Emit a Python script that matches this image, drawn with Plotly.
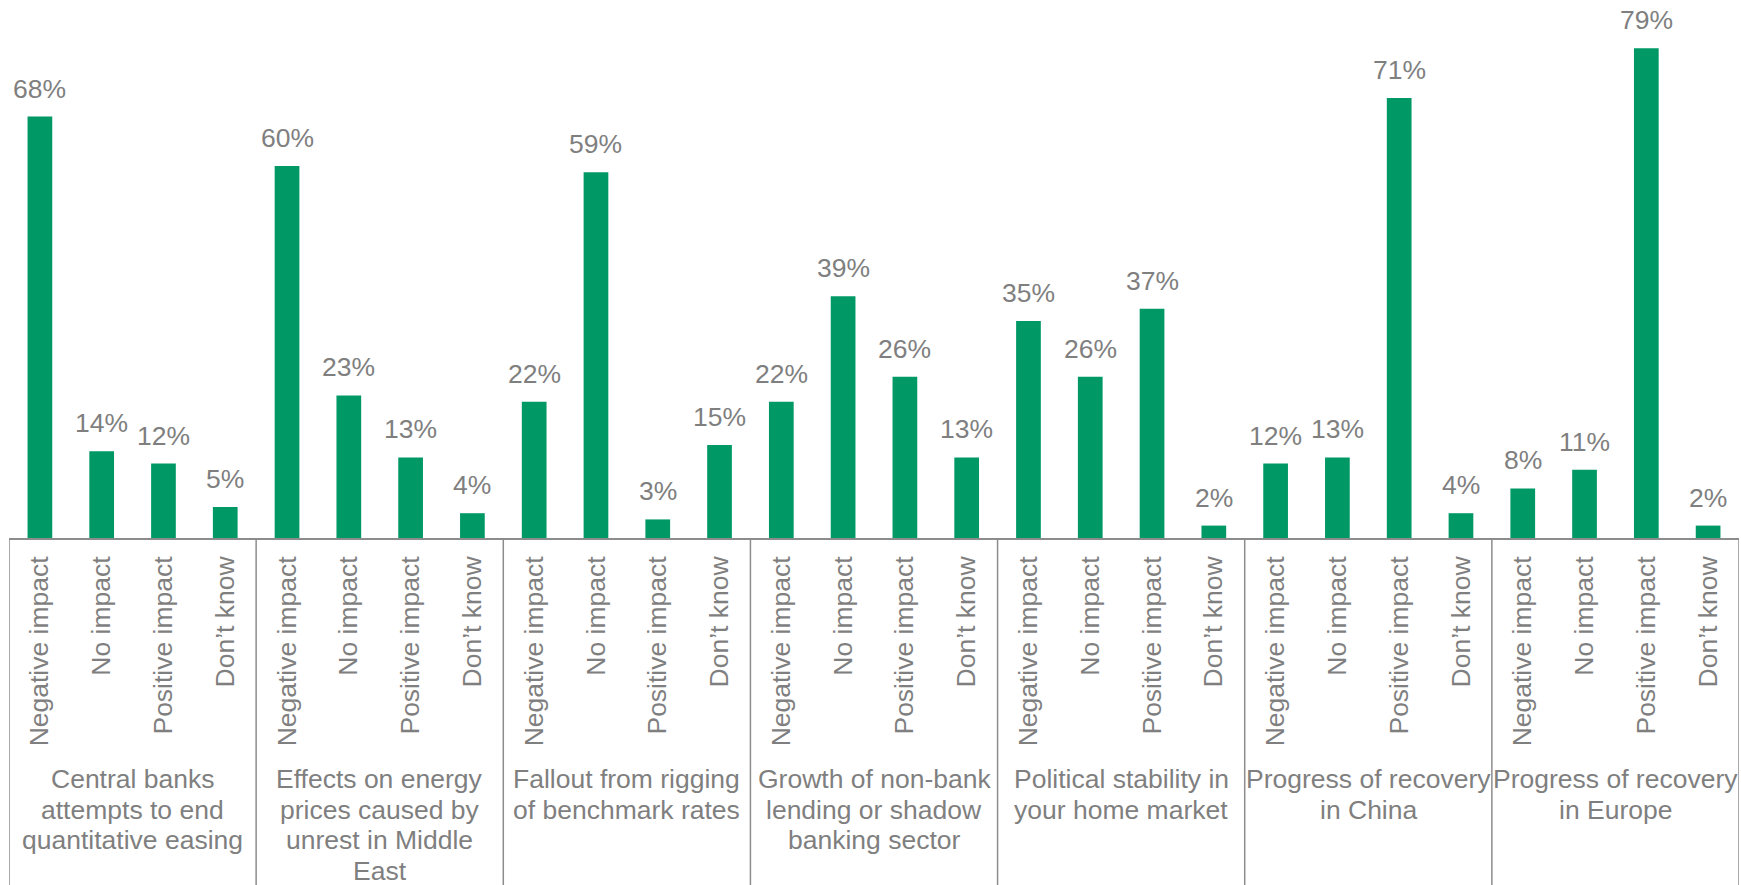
import plotly.graph_objects as go

groups = [
    "Central banks<br>attempts to end<br>quantitative easing",
    "Effects on energy<br>prices caused by<br>unrest in Middle<br>East",
    "Fallout from rigging<br>of benchmark rates",
    "Growth of non-bank<br>lending or shadow<br>banking sector",
    "Political stability in<br>your home market",
    "Progress of recovery<br>in China",
    "Progress of recovery<br>in Europe",
]
responses = ["Negative impact", "No impact", "Positive impact", "Don\u2019t know"]
values = [
    [68, 14, 12, 5],
    [60, 23, 13, 4],
    [22, 59, 3, 15],
    [22, 39, 26, 13],
    [35, 26, 37, 2],
    [12, 13, 71, 4],
    [8, 11, 79, 2],
]

GRAY = "#7f7f7f"
LINE = "#8c8c8c"
GREEN = "#009966"
FONT = "Liberation Sans, Arial, sans-serif"
FS = 26.5

W, H = 1741, 885
ML, MR, MT, MB = 9, 2, 0, 347
plot_h = H - MT - MB

n_resp = len(responses)
xs, ys, ticktext = [], [], []
for gi, vals in enumerate(values):
    for ri, v in enumerate(vals):
        xs.append(gi * n_resp + ri)
        ys.append(v)
        ticktext.append(responses[ri])

fig = go.Figure()
fig.add_trace(go.Bar(x=xs, y=ys, width=0.4, marker=dict(color=GREEN, line=dict(width=0)),
                     hoverinfo="skip"))

annotations = []
for x, y in zip(xs, ys):
    annotations.append(dict(x=x, y=y, xref="x", yref="y", text=f"{y}%", showarrow=False,
                            yanchor="bottom", yshift=11,
                            font=dict(family=FONT, size=FS, color=GRAY)))

shapes = []
total = len(xs)
for b in range(len(groups) + 1):
    xb = b * n_resp - 0.5
    shapes.append(dict(type="line", xref="x", yref="paper", x0=xb, x1=xb, y0=0,
                       y1=-(H - MT - plot_h) / plot_h, line=dict(color=LINE, width=1.5)))

line_px = 30.7
first_center = 779
for gi, g in enumerate(groups):
    lines = g.split("<br>")
    cx = gi * n_resp + (n_resp - 1) / 2
    for li, t in enumerate(lines):
        cy = first_center + li * line_px
        annotations.append(dict(x=cx, xref="x", y=-(cy - (MT + plot_h)) / plot_h, yref="paper",
                                text=t, showarrow=False, xanchor="center", yanchor="middle",
                                font=dict(family=FONT, size=FS, color=GRAY)))

fig.update_layout(
    width=W, height=H,
    margin=dict(l=ML, r=MR, t=MT, b=MB),
    plot_bgcolor="white", paper_bgcolor="white",
    showlegend=False,
    annotations=annotations,
    shapes=shapes,
)
fig.update_xaxes(range=[-0.5, total - 0.5], tickmode="array", tickvals=xs, ticktext=ticktext,
                 tickangle=-90, showline=True, linecolor=LINE, linewidth=1.5, ticks="",
                 showgrid=False, zeroline=False, ticklabelstandoff=6, automargin=False,
                 tickfont=dict(family=FONT, size=FS, color=GRAY))
fig.update_yaxes(range=[0, 86.8], visible=False, showgrid=False, zeroline=False, automargin=False)

fig.write_html("out.html", config={"displayModeBar": False},
               post_script="document.body.style.margin='0';")
